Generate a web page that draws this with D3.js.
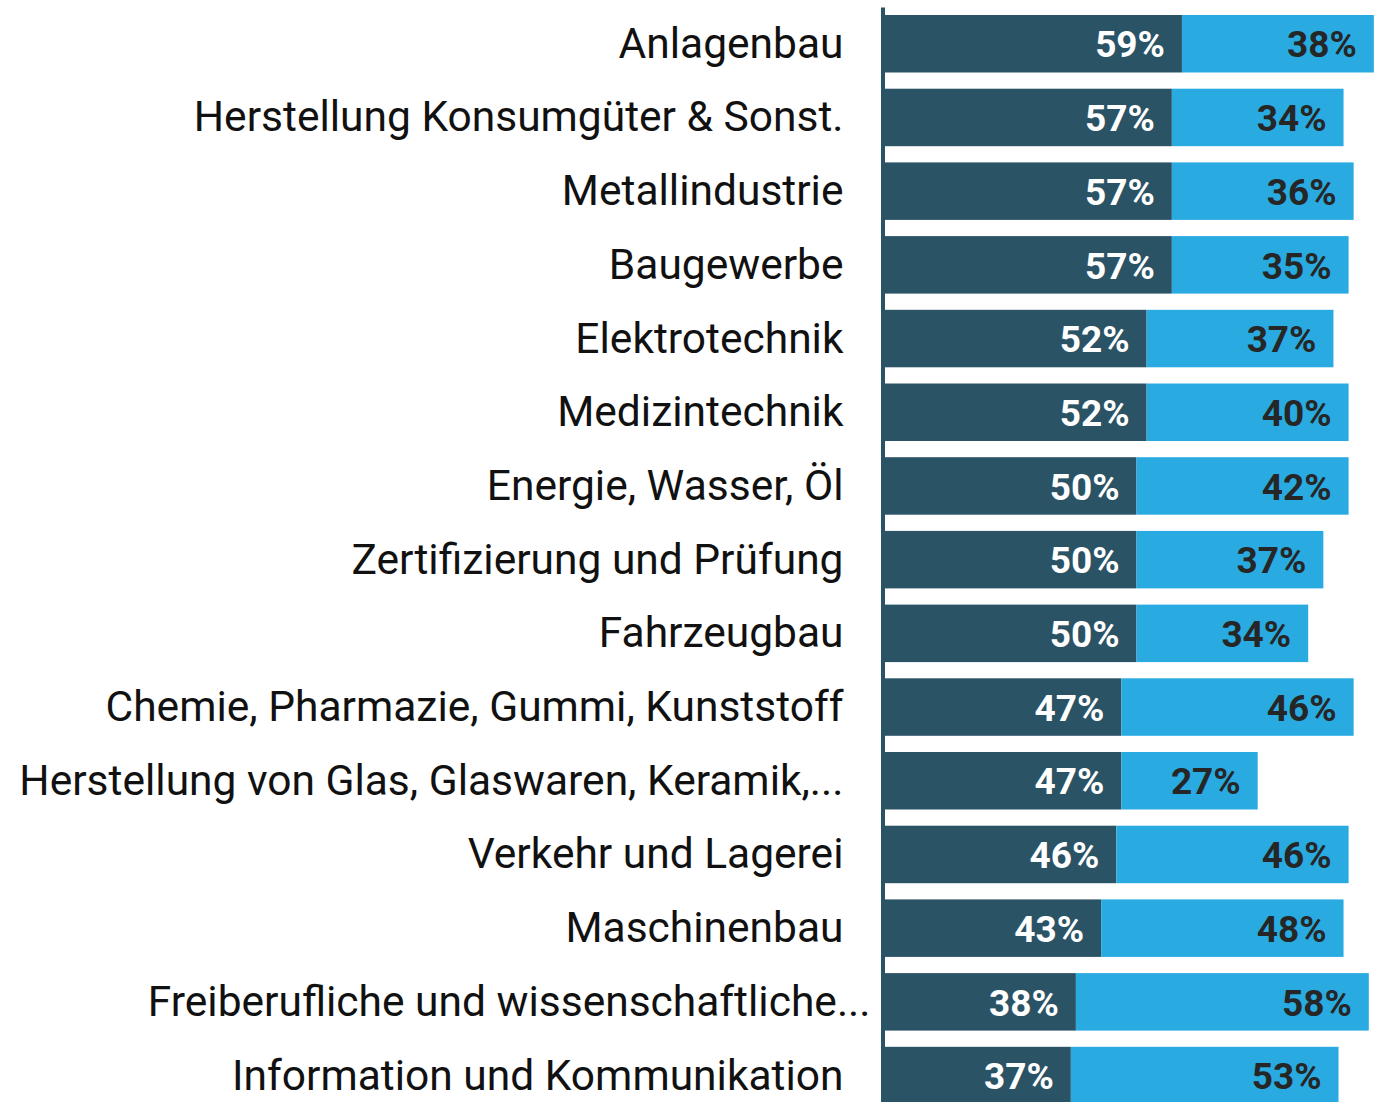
<!DOCTYPE html>
<html>
<head>
<meta charset="utf-8">
<script src="https://cdn.jsdelivr.net/npm/d3@7"></script>
<style>
    body { margin: 0; background: #fff; }
    svg { display: block; font-family: Roboto, sans-serif; }
</style>
</head>
<body>
<svg id="chart" width="1396" height="1102"></svg>
<script>
var categories = [
    "Anlagenbau",
    "Herstellung Konsumgüter & Sonst.",
    "Metallindustrie",
    "Baugewerbe",
    "Elektrotechnik",
    "Medizintechnik",
    "Energie, Wasser, Öl",
    "Zertifizierung und Prüfung",
    "Fahrzeugbau",
    "Chemie, Pharmazie, Gummi, Kunststoff",
    "Herstellung von Glas, Glaswaren, Keramik,...",
    "Verkehr und Lagerei",
    "Maschinenbau",
    "Freiberufliche und wissenschaftliche...",
    "Information und Kommunikation"
];
var darkValues  = [59, 57, 57, 57, 52, 52, 50, 50, 50, 47, 47, 46, 43, 38, 37];
var lightValues = [38, 34, 36, 35, 37, 40, 42, 37, 34, 46, 27, 46, 48, 58, 53];

var data = categories.map(function (c, i) {
    return {name: c, dark: darkValues[i], light: lightValues[i]};
});

var svg = d3.select("#chart");
var axisX0 = 882.5;

var x = d3.scaleLinear().domain([0, 100]).range([884, 884 + 505]);

var y = d3.scaleBand()
    .domain(categories)
    .range([6.9, 6.9 + 15 * 73.7])
    .paddingInner(0.22)
    .paddingOuter(0.11);

var darkColor = "#2b5366",
    lightColor = "#29abe2";

// axis line + category labels
var axis = svg.append("g")
    .attr("class", "axis axis--y")
    .attr("transform", "translate(" + axisX0 + ",0)")
    .call(d3.axisLeft(y).tickSize(0).tickSizeOuter(0).tickPadding(39));

axis.select(".domain")
    .attr("stroke", darkColor)
    .attr("stroke-width", 4);

axis.selectAll("text")
    .attr("fill", "#111")
    .attr("dy", "0.33em")
    .style("font", "42.5px Roboto, sans-serif");

// this one spills over in the original
axis.selectAll(".tick text")
    .filter(function (d) { return d.indexOf("Freiberufliche") === 0; })
    .attr("dx", 27);

var row = svg.append("g")
    .selectAll("g")
    .data(data)
    .enter().append("g");

row.append("rect")
    .attr("x", x(0))
    .attr("y", function (d) { return y(d.name); })
    .attr("width", function (d) { return x(d.dark) - x(0); })
    .attr("height", y.bandwidth())
    .attr("fill", darkColor);

row.append("rect")
    .attr("x", function (d) { return x(d.dark); })
    .attr("y", function (d) { return y(d.name); })
    .attr("width", function (d) { return x(d.dark + d.light) - x(d.dark); })
    .attr("height", y.bandwidth())
    .attr("fill", lightColor);

row.append("text")
    .attr("x", function (d) { return x(d.dark) - 17; })
    .attr("y", function (d) { return y(d.name) + y.bandwidth() / 2; })
    .attr("dy", "0.37em")
    .attr("text-anchor", "end")
    .attr("fill", "#fff")
    .style("font", "bold 37px Roboto, sans-serif")
    .text(function (d) { return d.dark + "%"; });

row.append("text")
    .attr("x", function (d) { return x(d.dark + d.light) - 17; })
    .attr("y", function (d) { return y(d.name) + y.bandwidth() / 2; })
    .attr("dy", "0.37em")
    .attr("text-anchor", "end")
    .attr("fill", "#262626")
    .style("font", "bold 37px Roboto, sans-serif")
    .text(function (d) { return d.light + "%"; });
</script>
</body>
</html>
